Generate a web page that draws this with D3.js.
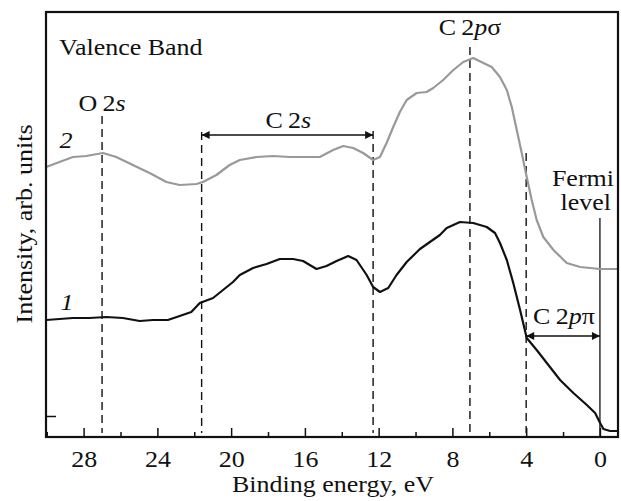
<!DOCTYPE html>
<html>
<head>
<meta charset="utf-8">
<script src="https://cdn.jsdelivr.net/npm/d3@7"></script>
<style>
	body { margin: 0; background: #fff; }
	svg, svg text { font-family: "Liberation Serif", "DejaVu Serif", "Times New Roman", Times, serif !important; }
	svg text { fill: #111; }
</style>
</head>
<body>
<svg id="chart" width="621" height="501"></svg>
<script>
// spectrum 2 (grey) : binding energy (eV) / intensity (arb. units)
const energy2 = [30.03, 29.31, 28.58, 27.86, 26.95, 26.23, 25.33, 24.42, 23.51, 22.79, 21.88, 21.53, 20.80, 20.08, 19.53, 18.63, 17.73, 16.82, 15.91, 15.19, 14.47, 13.92, 13.38, 12.84, 12.30, 11.93, 11.57, 11.21, 10.85, 10.48, 9.94, 9.40, 9.04, 8.50, 7.95, 7.41, 6.87, 6.32, 5.87, 5.42, 5.05, 4.78, 4.51, 4.24, 3.97, 3.70, 3.43, 3.07, 2.52, 1.80, 1.07, 0.0, -0.99]
const intensity2 = [24.9, 25.4, 25.9, 26.0, 26.3, 25.9, 25.1, 24.3, 23.4, 23.1, 23.2, 23.4, 24.1, 25.1, 25.6, 25.9, 26.0, 25.9, 25.9, 25.9, 26.6, 27.0, 26.8, 26.3, 25.6, 25.9, 27.3, 28.9, 30.4, 31.6, 32.3, 32.4, 32.8, 33.6, 34.6, 35.4, 35.8, 35.3, 34.9, 33.9, 32.6, 30.9, 28.6, 26.3, 23.9, 21.6, 19.6, 17.9, 16.6, 15.3, 14.9, 14.7, 14.7]

// spectrum 1 (black)
const energy1 = [30.03, 29.31, 28.58, 27.68, 26.77, 25.87, 24.96, 24.24, 23.43, 22.79, 22.16, 21.70, 20.98, 20.44, 19.90, 19.53, 18.81, 18.08, 17.36, 16.64, 16.10, 15.37, 14.83, 14.28, 13.65, 13.20, 12.65, 12.30, 11.93, 11.48, 11.03, 10.48, 9.76, 9.22, 8.68, 8.31, 7.59, 6.87, 6.14, 5.69, 5.42, 5.05, 4.70, 4.33, 3.97, 3.43, 2.88, 2.16, 1.44, 0.71, 0.26, -0.01, -0.19, -0.55, -0.99]
const intensity1 = [9.6, 9.7, 9.8, 9.8, 9.9, 9.8, 9.5, 9.6, 9.6, 10.0, 10.4, 11.3, 11.8, 12.6, 13.4, 14.1, 14.8, 15.2, 15.7, 15.7, 15.5, 14.7, 15.0, 15.5, 16.0, 15.6, 14.1, 12.9, 12.4, 12.8, 14.1, 15.4, 16.7, 17.4, 18.1, 18.8, 19.4, 19.3, 18.9, 18.3, 17.3, 15.6, 13.3, 10.6, 7.8, 6.6, 5.3, 3.6, 2.3, 1.1, 0.3, -0.7, -1.3, -1.5, -1.5]

// dashed marker lines (eV) and the intensity where each one starts
const markerEnergy = [27, 21.6, 12.3, 7.05, 4]
const markerTop = [30.0, 28.4, 28.5, 36.9, 26.3]

const xTicks = [28, 24, 20, 16, 12, 8, 4, 0]
const xMinorTicks = [30, 26, 22, 18, 14, 10, 6, 2]
const fermiEnergy = 0

const width = 621
const height = 501
const margin = {top: 12, right: 3, bottom: 64, left: 46}
const serif = '"Liberation Serif", "DejaVu Serif", "Times New Roman", serif'
const fontSize = 23
const stretch = 1.13 // the original typeface is a bit wider than Liberation Serif

const svg = d3.select('#chart').attr('font-family', serif)

const x = d3.scaleLinear()
	.domain([30.04, -0.98])
	.range([margin.left, width - margin.right])

const y = d3.scaleLinear()
	.domain([-2.1, 40.4])
	.range([height - margin.bottom, margin.top])

const yBottom = height - margin.bottom

// arrow heads
const defs = svg.append('defs')
defs.append('marker')
	.attr('id', 'head')
	.attr('viewBox', '0 0 10 10')
	.attr('refX', 10)
	.attr('refY', 5)
	.attr('markerWidth', 14)
	.attr('markerHeight', 8)
	.attr('markerUnits', 'userSpaceOnUse')
	.attr('orient', 'auto-start-reverse')
	.append('path')
	.attr('d', 'M0,0 L10,5 L0,10 z')
	.attr('fill', '#111')

// dashed lines
svg.append('g')
	.selectAll('line')
	.data(markerEnergy)
	.join('line')
	.attr('x1', d => x(d))
	.attr('x2', d => x(d))
	.attr('y1', (d, i) => y(markerTop[i]))
	.attr('y2', y(-1.7))
	.attr('stroke', '#111')
	.attr('stroke-width', 1.4)
	.attr('stroke-dasharray', '8,5')

// Fermi level line
svg.append('line')
	.attr('x1', x(fermiEnergy))
	.attr('x2', x(fermiEnergy))
	.attr('y1', y(19.8))
	.attr('y2', yBottom)
	.attr('stroke', '#111')
	.attr('stroke-width', 1.3)

const line = d3.line()
	.x(d => x(d[0]))
	.y(d => y(d[1]))

svg.append('path')
	.attr('d', line(d3.zip(energy2, intensity2)))
	.attr('fill', 'none')
	.attr('stroke', '#999')
	.attr('stroke-width', 2.2)
	.attr('stroke-linejoin', 'round')

svg.append('path')
	.attr('d', line(d3.zip(energy1, intensity1)))
	.attr('fill', 'none')
	.attr('stroke', '#111')
	.attr('stroke-width', 2.2)
	.attr('stroke-linejoin', 'round')

// double arrows
const arrows = [
	{from: 21.6, to: 12.3, level: 28.1},
	{from: 4, to: 0, level: 8.0}
]
svg.append('g')
	.selectAll('line')
	.data(arrows)
	.join('line')
	.attr('x1', d => x(d.from))
	.attr('x2', d => x(d.to))
	.attr('y1', d => y(d.level))
	.attr('y2', d => y(d.level))
	.attr('stroke', '#111')
	.attr('stroke-width', 1.4)
	.attr('marker-start', 'url(#head)')
	.attr('marker-end', 'url(#head)')

// axes
const xAxis = d3.axisBottom(x)
	.tickValues(xTicks)
	.tickSizeInner(-9)
	.tickSizeOuter(0)
	.tickPadding(14)

const gx = svg.append('g')
	.attr('transform', `translate(0,${yBottom})`)
	.call(xAxis)
	.attr('font-family', serif)
	.attr('font-size', fontSize)
gx.select('.domain').remove()
gx.selectAll('.tick line').attr('stroke', '#111').attr('stroke-width', 1.5)
gx.selectAll('.tick text').attr('fill', '#111')

const gxMinor = svg.append('g')
	.attr('transform', `translate(0,${yBottom})`)
	.call(d3.axisBottom(x).tickValues(xMinorTicks).tickSizeInner(-5).tickSizeOuter(0).tickFormat(''))
gxMinor.select('.domain').remove()
gxMinor.selectAll('.tick line').attr('stroke', '#111').attr('stroke-width', 1.5)

const gy = svg.append('g')
	.attr('transform', `translate(${margin.left},0)`)
	.call(d3.axisLeft(y).tickValues([0]).tickSizeInner(-10).tickSizeOuter(0).tickFormat(''))
gy.select('.domain').remove()
gy.selectAll('.tick line').attr('stroke', '#111').attr('stroke-width', 1.5)

// frame
svg.append('rect')
	.attr('x', margin.left)
	.attr('y', margin.top)
	.attr('width', width - margin.left - margin.right)
	.attr('height', yBottom - margin.top)
	.attr('fill', 'none')
	.attr('stroke', '#111')
	.attr('stroke-width', 2.2)

// axis titles
svg.append('text')
	.attr('x', 333)
	.attr('y', 492)
	.attr('text-anchor', 'middle')
	.attr('font-size', fontSize)
	.text('Binding energy, eV')

svg.append('text')
	.attr('transform', `translate(32,${224}) rotate(-90)`)
	.attr('text-anchor', 'middle')
	.attr('font-size', fontSize)
	.text('Intensity, arb. units')

// annotations
svg.append('text')
	.attr('x', 59)
	.attr('y', 55)
	.attr('font-size', fontSize)
	.text('Valence Band')

function label(xPos, yPos, parts, anchor) {
	const t = svg.append('text')
		.attr('x', xPos)
		.attr('y', yPos)
		.attr('font-size', fontSize)
		.attr('text-anchor', anchor || 'middle')
	parts.forEach(p => {
		t.append('tspan')
			.attr('font-style', p[1] ? 'italic' : 'normal')
			.text(p[0])
	})
	return t
}

label(x(27), 111, [['O\u20092', false], ['s', true]])
label(x(16.9), 128, [['C\u20092', false], ['s', true]])
label(x(7.05), 35, [['C\u20092', false], ['p', true], ['\u03c3', false]])
label(x(1.95), 324, [['C\u20092', false], ['p', true], ['\u03c0', false]])
label(66, 148, [['2', true]])
label(67, 310, [['1', true]])
label(614, 186, [['Fermi', false]], 'end')
label(611, 210, [['level', false]], 'end')

// widen every text a little to match the original face
svg.selectAll('text').each(function() {
	const len = this.getComputedTextLength()
	d3.select(this)
		.attr('textLength', len * stretch)
		.attr('lengthAdjust', 'spacingAndGlyphs')
})
</script>
</body>
</html>
